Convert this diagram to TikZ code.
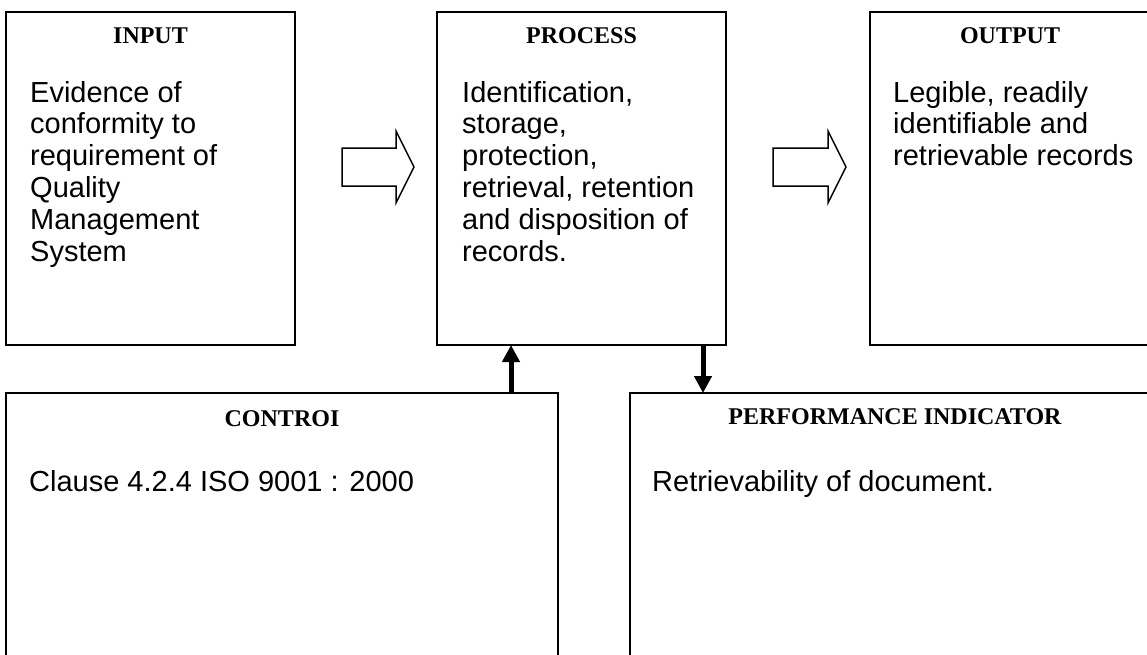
\documentclass[tikz,border=0pt]{standalone}
\usepackage{fontspec}
\setmainfont{Liberation Serif}
\newfontfamily\bodyfont{Liberation Sans}
\usetikzlibrary{arrows.meta}
\tikzset{
  box/.style={draw, line width=2pt, inner sep=0pt, outer sep=0pt},
  boxtitle/.style={anchor=base, inner sep=0pt, font=\fontsize{24}{28}\selectfont\bfseries},
  boxbody/.style={anchor=base west, inner sep=0pt},
  blockarrow/.style={draw, line width=1.5pt, line join=miter, fill=white},
  flowarrow/.style={line width=5pt, -{Triangle[width=17pt,length=17pt]}}
}
\newcommand{\bodytext}[2]{\parbox[t]{#1}{\raggedright\bodyfont\fontsize{29}{31.8}\selectfont #2}}
\begin{document}
\begin{tikzpicture}[x=1pt,y=-1pt]
\useasboundingbox (0,0) rectangle (1147,654);
% boxes
\node[box, minimum width=289pt, minimum height=333pt] (input) at (150.5,178.5) {};
\node[box, minimum width=289pt, minimum height=333pt] (process) at (581.5,178.5) {};
\node[box, minimum width=290pt, minimum height=333pt] (output) at (1015,178.5) {};
\node[box, minimum width=552pt, minimum height=307pt] (control) at (282,546.5) {};
\node[box, minimum width=530pt, minimum height=307pt] (perf) at (895,546.5) {};
% titles
\node[boxtitle] (tin) at (150.5,43) {INPUT};
\node[boxtitle] (tproc) at (581.5,43) {PROCESS};
\node[boxtitle] (tout) at (1010,43) {OUTPUT};
\node[boxtitle] (tctrl) at (282,426) {CONTROI};
\node[boxtitle] (tperf) at (895,424) {PERFORMANCE INDICATOR};
% body texts
\node[boxbody] (bin) at (30,102) {\bodytext{260pt}{Evidence of\\conformity to\\requirement of\\Quality\\Management\\System}};
\node[boxbody] (bproc) at (462,102) {\bodytext{262pt}{Identification,\\storage,\\protection,\\retrieval, retention\\and disposition of\\records.}};
\node[boxbody] (bout) at (893,102) {\bodytext{260pt}{Legible, readily\\identifiable and\\retrievable records}};
\node[boxbody] (bctrl) at (29,491) {\bodytext{520pt}{Clause 4.2.4 ISO 9001 : 2000}};
\node[boxbody] (bperf) at (652,491) {\bodytext{480pt}{Retrievability of document.}};
% hollow block arrows
\draw[blockarrow] (342,148) -- (396,148) -- (396,131) -- (414,167) -- (396,203) -- (396,186) -- (342,186) -- cycle;
\draw[blockarrow] (773,148) -- (828,148) -- (828,131) -- (846,167) -- (828,203) -- (828,186) -- (773,186) -- cycle;
% vertical arrows
\coordinate (upfoot) at (511,393);
\coordinate (downtop) at (703,345);
\draw[flowarrow] (upfoot) -- (upfoot |- process.south);
\draw[flowarrow] (downtop) -- (downtop |- perf.north);
\end{tikzpicture}
\end{document}
